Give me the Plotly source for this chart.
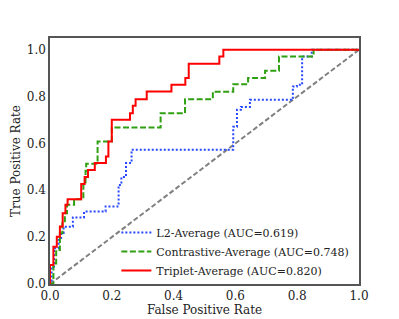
import plotly.graph_objects as go

# ROC step vertices (fpr, tpr)
l2_fpr = [0.0, 0.005, 0.005, 0.013, 0.013, 0.028, 0.028, 0.036, 0.036, 0.044, 0.044, 0.074, 0.074,
          0.110, 0.110, 0.180, 0.180, 0.222, 0.222, 0.231, 0.231, 0.246, 0.246, 0.264, 0.264,
          0.593, 0.593, 0.605, 0.605, 0.618, 0.618, 0.647, 0.647, 0.786, 0.786, 0.799, 0.799,
          0.816, 0.816, 0.847, 0.847, 1.0]
l2_tpr = [0.0, 0.0, 0.074, 0.074, 0.153, 0.153, 0.188, 0.188, 0.218, 0.218, 0.244, 0.244, 0.284,
          0.284, 0.309, 0.309, 0.331, 0.331, 0.423, 0.423, 0.457, 0.457, 0.516, 0.516, 0.573,
          0.573, 0.671, 0.671, 0.744, 0.744, 0.756, 0.756, 0.786, 0.786, 0.843, 0.843, 0.850,
          0.850, 0.971, 0.971, 1.0, 1.0]

con_fpr = [0.0, 0.011, 0.011, 0.020, 0.020, 0.032, 0.032, 0.040, 0.040, 0.048, 0.048, 0.055, 0.055,
           0.078, 0.078, 0.108, 0.108, 0.115, 0.115, 0.117, 0.117, 0.154, 0.154, 0.200, 0.200,
           0.358, 0.358, 0.437, 0.437, 0.527, 0.527, 0.593, 0.593, 0.641, 0.641, 0.696, 0.696,
           0.741, 0.741, 0.853, 0.853, 1.0]
con_tpr = [0.0, 0.0, 0.088, 0.088, 0.145, 0.145, 0.217, 0.217, 0.259, 0.259, 0.302, 0.302, 0.338,
           0.338, 0.362, 0.362, 0.427, 0.427, 0.483, 0.483, 0.513, 0.513, 0.608, 0.608, 0.668,
           0.668, 0.729, 0.729, 0.789, 0.789, 0.821, 0.821, 0.853, 0.853, 0.879, 0.879, 0.910,
           0.910, 0.971, 0.971, 1.0, 1.0]

tri_fpr = [0.0, 0.0, 0.011, 0.011, 0.022, 0.022, 0.032, 0.032, 0.041, 0.041, 0.050, 0.050, 0.057,
           0.057, 0.101, 0.101, 0.112, 0.112, 0.123, 0.123, 0.145, 0.145, 0.181, 0.181, 0.189,
           0.189, 0.200, 0.200, 0.259, 0.259, 0.268, 0.268, 0.277, 0.277, 0.313, 0.313, 0.393,
           0.393, 0.438, 0.438, 0.449, 0.449, 0.548, 0.548, 0.561, 0.561, 1.0]
tri_tpr = [0.0, 0.081, 0.081, 0.159, 0.159, 0.202, 0.202, 0.245, 0.245, 0.302, 0.302, 0.338, 0.338,
           0.362, 0.362, 0.427, 0.427, 0.457, 0.457, 0.487, 0.487, 0.516, 0.516, 0.544, 0.544,
           0.608, 0.608, 0.701, 0.701, 0.729, 0.729, 0.761, 0.761, 0.789, 0.789, 0.822, 0.822,
           0.850, 0.850, 0.879, 0.879, 0.940, 0.940, 0.971, 0.971, 1.0, 1.0]

diag = [0.0, 1.0]

names = ["L2-Average (AUC=0.619)", "Contrastive-Average (AUC=0.748)", "Triplet-Average (AUC=0.820)"]
ticks = [0.0, 0.2, 0.4, 0.6, 0.8, 1.0]
tick_text = ["0.0", "0.2", "0.4", "0.6", "0.8", "1.0"]

FONT = "DejaVu Serif"

fig = go.Figure()
fig.add_trace(go.Scatter(x=diag, y=diag, mode="lines", showlegend=False,
                         line=dict(color="#808080", width=2, dash="5px,2.5px"), hoverinfo="skip"))
fig.add_trace(go.Scatter(x=l2_fpr, y=l2_tpr, mode="lines", name=names[0],
                         line=dict(color="#2748ff", width=2, dash="2px,2px")))
fig.add_trace(go.Scatter(x=con_fpr, y=con_tpr, mode="lines", name=names[1],
                         line=dict(color="#2fa012", width=2, dash="6px,2.5px")))
fig.add_trace(go.Scatter(x=tri_fpr, y=tri_tpr, mode="lines", name=names[2],
                         line=dict(color="#ff0000", width=2)))

axis_common = dict(showgrid=False, zeroline=False, showline=True, mirror=True,
                   linecolor="#555555", linewidth=1.5, ticks="", automargin=False,
                   tickfont=dict(family=FONT, size=12, color="#222222"))

# the page body adds an 8px offset, so the figure is 8px smaller than the window
fig.update_layout(
    width=391, height=311,
    margin=dict(l=42, r=40, t=30, b=35),
    paper_bgcolor="white", plot_bgcolor="white",
    font=dict(family=FONT, size=11, color="#222222"),
    xaxis=dict(range=[0, 1], tickvals=ticks, ticktext=tick_text,
               title=dict(text="False Positive Rate", font=dict(family=FONT, size=12), standoff=2),
               **axis_common),
    yaxis=dict(range=[0, 1.05], tickvals=ticks, ticktext=tick_text,
               title=dict(text="True Positive Rate", font=dict(family=FONT, size=12), standoff=4),
               **axis_common),
    legend=dict(x=0.985, y=-0.004, xanchor="right", yanchor="bottom",
                bgcolor="rgba(255,255,255,0)", borderwidth=0,
                font=dict(family=FONT, size=11), tracegroupgap=0, itemwidth=30),
    showlegend=True,
)

fig.write_html("out.html")
